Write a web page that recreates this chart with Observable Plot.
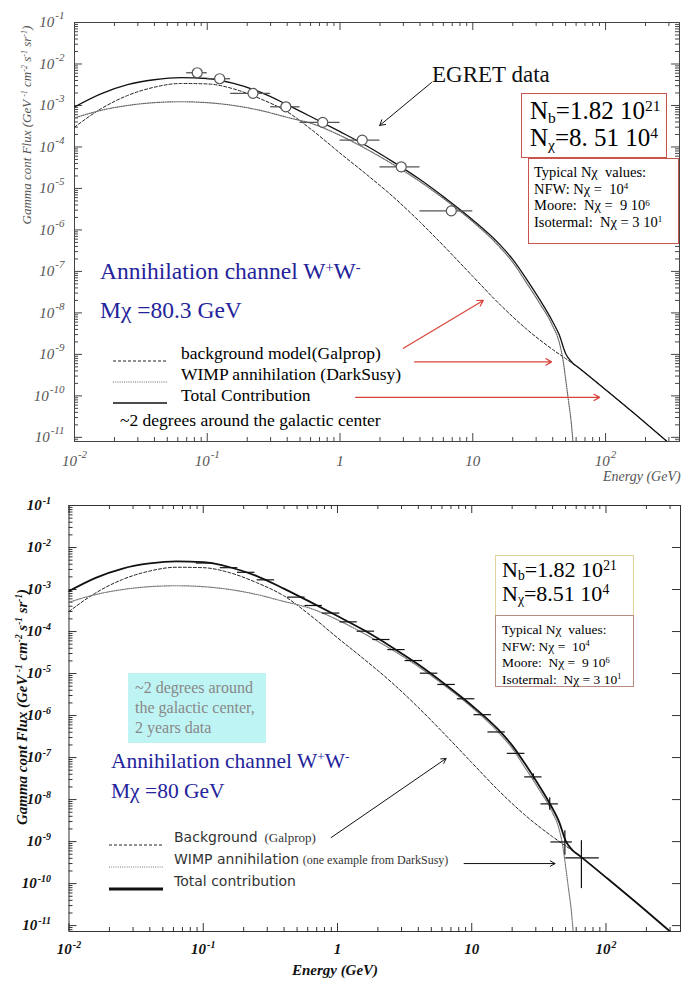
<!DOCTYPE html>
<html><head><meta charset="utf-8">
<script src="https://cdn.jsdelivr.net/npm/d3@7"></script>
<script src="https://cdn.jsdelivr.net/npm/@observablehq/plot@0.6"></script>
<style>
body{margin:0;background:#fff;}
#root{position:relative;width:683px;height:983px;overflow:hidden;background:#fff;font-family:"Liberation Serif","DejaVu Serif",serif;}
#root svg{position:absolute;left:0;}
.a{position:absolute;white-space:pre;line-height:1;}
sup{font-size:0.62em;position:relative;top:-0.5em;vertical-align:baseline;line-height:0;}
sub{font-size:0.62em;position:relative;top:0.25em;vertical-align:baseline;line-height:0;}
.box{position:absolute;box-sizing:border-box;background:#fff;}
.sans{font-family:"DejaVu Sans",sans-serif;}
</style></head><body><div id="root"></div>
<script>
// ---------------- data (GeV, GeV^-1 cm^-2 s^-1 sr^-1) ----------------
const xTickValues = [0.01, 0.1, 1, 10, 100];
const xTickLabels = ["10^-2", "10^-1", "1", "10", "10^2"];
const yTickValues = [1e-1, 1e-2, 1e-3, 1e-4, 1e-5, 1e-6, 1e-7, 1e-8, 1e-9, 1e-10, 1e-11];
const yTickLabels = ["10^-1","10^-2","10^-3","10^-4","10^-5","10^-6","10^-7","10^-8","10^-9","10^-10","10^-11"];

// background model (Galprop)
const bgE = [0.01, 0.0158, 0.0251, 0.0398, 0.0631, 0.1, 0.158, 0.251, 0.398, 0.631, 1, 1.58, 2.51, 3.98, 6.31, 10, 15.8, 25.1, 39.8, 50.1, 63.1, 100, 158, 316];
const bgF = [3.0e-4, 8.3e-4, 1.74e-3, 2.75e-3, 3.39e-3, 3.31e-3, 2.51e-3, 1.45e-3, 7.1e-4, 2.4e-4, 7.1e-5, 2.19e-5, 6.3e-6, 1.58e-6, 3.55e-7, 7.6e-8, 1.66e-8, 4.2e-9, 1.32e-9, 7.9e-10, 4.7e-10, 1.41e-10, 4.2e-11, 6.3e-12];
// WIMP annihilation (DarkSusy)
const wimpE = [0.01, 0.0158, 0.0251, 0.0398, 0.0631, 0.1, 0.158, 0.251, 0.398, 0.631, 1, 1.58, 2.51, 3.98, 6.31, 10, 15.8, 20, 25.1, 31.6, 39.8, 44.7, 47.9, 50.1, 52.5, 55.0, 57.5];
const wimpF = [5.0e-4, 7.6e-4, 1.0e-3, 1.17e-3, 1.23e-3, 1.17e-3, 1.0e-3, 7.6e-4, 5.2e-4, 3.55e-4, 1.9e-4, 8.9e-5, 3.8e-5, 1.48e-5, 5.1e-6, 1.58e-6, 4.0e-7, 1.66e-7, 5.6e-8, 1.78e-8, 5.0e-9, 2.0e-9, 7.1e-10, 2.5e-10, 7.9e-11, 2.5e-11, 5.0e-12];
// total contribution
const totE = [0.01, 0.0158, 0.0251, 0.0398, 0.0631, 0.1, 0.158, 0.251, 0.398, 0.631, 1, 1.58, 2.51, 3.98, 6.31, 10, 15.8, 20, 25.1, 31.6, 39.8, 44.7, 50.1, 56.2, 63.1, 100, 158, 316];
const totF = [9.2e-4, 1.9e-3, 3.16e-3, 4.17e-3, 4.68e-3, 4.47e-3, 3.39e-3, 2.09e-3, 1.05e-3, 5.0e-4, 2.34e-4, 1.07e-4, 4.37e-5, 1.66e-5, 5.6e-6, 1.74e-6, 4.6e-7, 1.95e-7, 6.9e-8, 2.2e-8, 6.3e-9, 3.0e-9, 1.04e-9, 6.3e-10, 4.7e-10, 1.41e-10, 4.2e-11, 6.3e-12];

// EGRET data (top panel)
const egretE   = [0.084, 0.124, 0.221, 0.391, 0.741, 1.47, 2.89, 6.89];
const egretElo = [0.07, 0.1, 0.15, 0.3, 0.5, 1, 2, 4];
const egretEhi = [0.1, 0.15, 0.3, 0.5, 1, 2, 4, 10];
const egretF   = [6.15e-3, 4.41e-3, 1.96e-3, 9.3e-4, 3.91e-4, 1.46e-4, 3.32e-5, 2.88e-6];

// simulated 2-year data (bottom panel)
const simE   = [0.103, 0.156, 0.209, 0.293, 0.494, 0.665, 0.897, 1.21, 1.63, 2.12, 2.75, 3.71, 4.81, 6.49, 9.08, 12.05, 15.3, 21.4, 28.8, 38.1, 49.4, 65.6];
const simElo = [0.0887, 0.134, 0.180, 0.252, 0.425, 0.573, 0.772, 1.042, 1.40, 1.83, 2.37, 3.19, 4.14, 5.59, 7.82, 10.4, 13.2, 18.4, 24.8, 32.8, 38.9, 50.1];
const simEhi = [0.1196, 0.181, 0.243, 0.340, 0.574, 0.772, 1.042, 1.405, 1.89, 2.46, 3.19, 4.31, 5.59, 7.54, 10.55, 14.0, 17.8, 24.9, 33.4, 44.2, 56.2, 89.1];
const simF   = [4.27e-3, 3.31e-3, 2.57e-3, 1.70e-3, 6.6e-4, 4.17e-4, 2.75e-4, 1.70e-4, 1.02e-4, 6.46e-5, 3.72e-5, 2.04e-5, 1.02e-5, 5.5e-6, 2.51e-6, 1.05e-6, 4.07e-7, 1.26e-7, 3.47e-8, 7.9e-9, 9.8e-10, 4.1e-10];
// points with visible vertical error bars
const simErrE  = [28.8, 38.1, 49.4, 65.6];
const simErrLo = [2.96e-8, 5.6e-9, 4.7e-10, 7.6e-11];
const simErrHi = [4.07e-8, 1.1e-8, 1.8e-9, 1.05e-9];

// annotation arrows (data coordinates)
const arrowTopBlack = [{x1: 4.89, y1: 3.58e-3, x2: 1.99, y2: 3.3e-4}];
const arrowTopRed = [
  {x1: 3.0, y1: 1.4e-9, x2: 12.0, y2: 2.0e-8},
  {x1: 3.64, y1: 6.6e-10, x2: 39.2, y2: 6.6e-10},
  {x1: 1.31, y1: 9.2e-11, x2: 90.2, y2: 9.2e-11}
];
const arrowBottom = [
  {x1: 0.898, y1: 1.25e-9, x2: 6.44, y2: 9.5e-8},
  {x1: 8.77, y1: 3.0e-10, x2: 41.7, y2: 3.0e-10}
];

// ---------------- tables ----------------
const bg = bgE.map((E, i) => ({E, F: bgF[i]}));
const wimp = wimpE.map((E, i) => ({E, F: wimpF[i]}));
const tot = totE.map((E, i) => ({E, F: totF[i]}));
const egret = egretE.map((E, i) => ({E, F: egretF[i], lo: egretElo[i], hi: egretEhi[i]}));
const sim = simE.map((E, i) => ({E, F: simF[i], lo: simElo[i], hi: simEhi[i]}));
const simErr = simErrE.map((E, i) => ({E, lo: simErrLo[i], hi: simErrHi[i]}));

function logTicks([lo, hi]) {
  const major = [], minor = [];
  for (let e = Math.floor(Math.log10(lo)); e <= Math.ceil(Math.log10(hi)); e++) {
    const b = Math.pow(10, e);
    if (b >= lo * 0.999 && b <= hi * 1.001) major.push(b);
    for (let m = 2; m < 10; m++) { const v = m * b; if (v >= lo && v <= hi) minor.push(v); }
  }
  return {major, minor};
}
function tickMarks(xDom, yDom, fw, fh, c, minorRight) {
  const xs = logTicks(xDom), ys = logTicks(yDom);
  const o = {stroke: c, strokeWidth: 1};
  const m = [
    Plot.tickX(xs.major, {x: d => d, insetTop: fh - 8, ...o}),
    Plot.tickX(xs.minor, {x: d => d, insetTop: fh - 4, ...o}),
    Plot.tickX(xs.major, {x: d => d, insetBottom: fh - 8, ...o}),
    Plot.tickX(xs.minor, {x: d => d, insetBottom: fh - 4, ...o}),
    Plot.tickY(ys.major, {y: d => d, insetRight: fw - 8, ...o}),
    Plot.tickY(ys.minor, {y: d => d, insetRight: fw - 4, ...o}),
    Plot.tickY(ys.major, {y: d => d, insetLeft: fw - 8, ...o})
  ];
  if (minorRight) m.push(Plot.tickY(ys.minor, {y: d => d, insetLeft: fw - 4, ...o}));
  return m;
}
function superscripts(svg, size, rise) {
  d3.select(svg).selectAll("text").each(function () {
    const m = /^(.*)\^(.+)$/.exec(this.textContent);
    if (!m) return;
    this.textContent = "";
    d3.select(this).append("tspan").text(m[1]);
    d3.select(this).append("tspan").attr("dx", 1).attr("dy", -rise).attr("font-size", size).text(m[2]);
  });
}

const root = document.getElementById("root");

// ---------------- top panel ----------------
{
  const H = 490, ml = 74, mr = 4, mt = 22, mb = 49;
  const xDom = [0.01, 360.6], yDom = [Math.pow(10, -11.1), 0.1];
  const fw = 683 - ml - mr, fh = H - mt - mb;
  const lab = {fill: "#555", fontFamily: "Liberation Serif", fontStyle: "italic", fontSize: 15};
  const svg = Plot.plot({
    width: 683, height: H, marginLeft: ml, marginRight: mr, marginTop: mt, marginBottom: mb,
    x: {type: "log", domain: xDom, axis: null},
    y: {type: "log", domain: yDom, axis: null},
    style: {background: "transparent", overflow: "visible"},
    marks: [
      Plot.frame({stroke: "#444"}),
      ...tickMarks(xDom, yDom, fw, fh, "#444", true),
      Plot.line(bg, {x: "E", y: "F", stroke: "#222", strokeWidth: 1, strokeDasharray: "3,2", curve: "monotone-x", clip: true}),
      Plot.line(wimp, {x: "E", y: "F", stroke: "#666", strokeWidth: 1.2, strokeDasharray: "1,1.2", curve: "monotone-x", clip: true}),
      Plot.line(tot, {x: "E", y: "F", stroke: "#111", strokeWidth: 1.3, curve: "monotone-x", clip: true}),
      Plot.ruleY(egret, {y: "F", x1: "lo", x2: "hi", stroke: "#555", strokeWidth: 1.3}),
      Plot.dot(egret, {x: "E", y: "F", r: 5, fill: "white", stroke: "#555", strokeWidth: 1.2}),
      Plot.arrow(arrowTopBlack, {x1: "x1", y1: "y1", x2: "x2", y2: "y2", stroke: "#111", strokeWidth: 1, headLength: 9}),
      Plot.arrow(arrowTopRed, {x1: "x1", y1: "y1", x2: "x2", y2: "y2", stroke: "#d8433b", strokeWidth: 1.2, headLength: 8}),
      Plot.text(xTickValues, {x: d => d, text: (d, i) => xTickLabels[i], frameAnchor: "bottom", dy: 24, lineAnchor: "bottom", ...lab}),
      Plot.text(yTickValues, {y: d => d, text: (d, i) => yTickLabels[i], frameAnchor: "left", dx: -10, textAnchor: "end", ...lab})
    ]
  });
  superscripts(svg, 11, 8);
  svg.style.top = "0px";
  root.appendChild(svg);
}

// ---------------- bottom panel ----------------
{
  const H = 493, ml = 68.5, mr = 3, mt = 15, mb = 52;
  const xDom = [0.01, 359], yDom = [Math.pow(10, -11.14), 0.1];
  const fw = 683 - ml - mr, fh = H - mt - mb;
  const lab = {fill: "#111", fontFamily: "Liberation Serif", fontStyle: "italic", fontWeight: "bold", fontSize: 15};
  const svg = Plot.plot({
    width: 683, height: H, marginLeft: ml, marginRight: mr, marginTop: mt, marginBottom: mb,
    x: {type: "log", domain: xDom, axis: null},
    y: {type: "log", domain: yDom, axis: null},
    style: {background: "transparent", overflow: "visible"},
    marks: [
      Plot.frame({stroke: "#333"}),
      ...tickMarks(xDom, yDom, fw, fh, "#333", false),
      Plot.line(bg, {x: "E", y: "F", stroke: "#222", strokeWidth: 1, strokeDasharray: "3,2", curve: "monotone-x", clip: true}),
      Plot.line(wimp, {x: "E", y: "F", stroke: "#777", strokeWidth: 1.2, strokeDasharray: "1,1.2", curve: "monotone-x", clip: true}),
      Plot.line(tot, {x: "E", y: "F", stroke: "#111", strokeWidth: 1.8, curve: "monotone-x", clip: true}),
      Plot.ruleY(sim, {y: "F", x1: "lo", x2: "hi", stroke: "#111", strokeWidth: 1.2}),
      Plot.ruleX(simErr, {x: "E", y1: "lo", y2: "hi", stroke: "#111", strokeWidth: 1.2}),
      Plot.arrow(arrowBottom, {x1: "x1", y1: "y1", x2: "x2", y2: "y2", stroke: "#111", strokeWidth: 1, headLength: 8}),
      Plot.text(xTickValues, {x: d => d, text: (d, i) => xTickLabels[i], frameAnchor: "bottom", dy: 22, lineAnchor: "bottom", ...lab}),
      Plot.text(yTickValues, {y: d => d, text: (d, i) => yTickLabels[i], frameAnchor: "left", dx: -18, textAnchor: "end", ...lab})
    ]
  });
  superscripts(svg, 10, 6);
  svg.style.top = "490px";
  root.appendChild(svg);
}

// ---------------- annotations ----------------
const sample = (dash, w, color) =>
  `<svg width="54" height="6" style="position:static"><line x1="0" y1="3" x2="54" y2="3" stroke="${color}" stroke-width="${w}" ${dash ? `stroke-dasharray="${dash}"` : ""}/></svg>`;

root.insertAdjacentHTML("beforeend", `
<div class="a" style="left:26px;top:125px;transform:translate(-50%,-50%) rotate(-90deg);font-style:italic;font-size:13px;color:#555;">Gamma cont Flux (GeV <sup>-1</sup> cm<sup>-2</sup> s<sup>-1</sup> sr<sup>-1</sup>)</div>
<div class="a" style="left:603px;top:470px;font-style:italic;font-size:14px;color:#555;">Energy (GeV)</div>
<div class="a" style="left:432px;top:63px;font-size:23px;color:#111;">EGRET data</div>
<div class="box" style="left:521px;top:93px;width:146px;height:65px;border:1px solid #c9544c;">
  <div class="a" style="left:8px;top:4px;font-size:25px;">N<sub>b</sub>=1.82 10<sup>21</sup></div>
  <div class="a" style="left:8px;top:31px;font-size:25px;">N<sub>χ</sub>=8. 51 10<sup>4</sup></div>
</div>
<div class="box" style="left:528px;top:158px;width:151px;height:86px;border:1px solid #c9544c;padding:5px 0 0 5px;font-size:14.5px;line-height:16.5px;white-space:pre;">Typical Nχ  values:
NFW: Nχ =  10<sup>4</sup>
Moore:  Nχ =  9 10<sup>6</sup>
Isotermal:  Nχ = 3 10<sup>1</sup></div>
<div class="a" style="left:100px;top:260px;font-size:23.5px;color:#23239b;">Annihilation channel W<sup>+</sup>W<sup>-</sup></div>
<div class="a" style="left:100px;top:299px;font-size:23.5px;color:#23239b;">Mχ =80.3 GeV</div>
<div class="a" style="left:113px;top:351px;">${sample("3,2", 1, "#222")}</div>
<div class="a" style="left:113px;top:372px;">${sample("1,1.2", 1.2, "#666")}</div>
<div class="a" style="left:113px;top:393px;">${sample(null, 1.3, "#111")}</div>
<div class="a" style="left:181px;top:345px;font-size:17.5px;">background model(Galprop)</div>
<div class="a" style="left:181px;top:366px;font-size:17.5px;">WIMP annihilation (DarkSusy)</div>
<div class="a" style="left:181px;top:387px;font-size:17.5px;">Total Contribution</div>
<div class="a" style="left:120px;top:412px;font-size:17.5px;">~2 degrees around the galactic center</div>

<div class="a" style="left:22px;top:707px;transform:translate(-50%,-50%) rotate(-90deg);font-style:italic;font-weight:bold;font-size:15px;color:#111;">Gamma cont Flux (GeV <sup>-1</sup> cm<sup>-2</sup> s<sup>-1</sup> sr<sup>-1</sup>)</div>
<div class="a" style="left:335px;top:963px;transform:translateX(-50%);font-style:italic;font-weight:bold;font-size:15px;color:#111;">Energy (GeV)</div>
<div class="box" style="left:495px;top:555px;width:139px;height:61px;border:1px solid #e3d29a;">
  <div class="a" style="left:6px;top:3px;font-size:22px;">N<sub>b</sub>=1.82 10<sup>21</sup></div>
  <div class="a" style="left:6px;top:27px;font-size:22px;">N<sub>χ</sub>=8.51 10<sup>4</sup></div>
</div>
<div class="box" style="left:495px;top:615px;width:139px;height:72px;border:1px solid #b88a80;padding:6px 0 0 6px;font-size:13.5px;line-height:16.5px;white-space:pre;">Typical Nχ  values:
NFW: Nχ =  10<sup>4</sup>
Moore:  Nχ =  9 10<sup>6</sup>
Isotermal:  Nχ = 3 10<sup>1</sup></div>
<div class="box" style="left:128px;top:673px;width:138px;height:70px;background:#bff4f4;padding:5px 0 0 7px;font-size:16px;line-height:20px;color:#888;white-space:pre;">~2 degrees around
the galactic center,
2 years data</div>
<div class="a" style="left:111px;top:751px;font-size:21.5px;color:#23239b;">Annihilation channel W<sup>+</sup>W<sup>-</sup></div>
<div class="a" style="left:111px;top:781px;font-size:21.5px;color:#23239b;">Mχ =80 GeV</div>
<div class="a" style="left:109px;top:835px;">${sample("3,2", 1, "#222")}</div>
<div class="a" style="left:109px;top:857px;">${sample("1,1.2", 1.2, "#777")}</div>
<div class="a" style="left:109px;top:879px;">${sample(null, 3, "#111")}</div>
<div class="a" style="left:174px;top:830px;font-size:14px;color:#333;"><span class="sans">Background</span>  <span style="font-size:13px">(Galprop)</span></div>
<div class="a" style="left:174px;top:852px;font-size:14px;color:#333;"><span class="sans">WIMP annihilation</span> <span style="font-size:12px">(one example from DarkSusy)</span></div>
<div class="a sans" style="left:174px;top:874px;font-size:14px;color:#333;">Total contribution</div>
`);
</script></body></html>
